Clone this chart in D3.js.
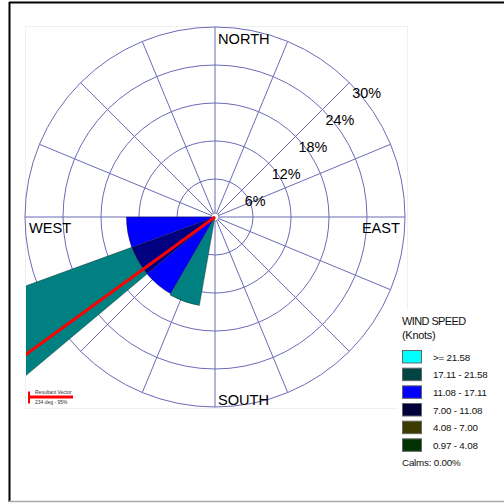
<!DOCTYPE html>
<html>
<head>
<meta charset="utf-8">
<script src="https://cdn.jsdelivr.net/npm/d3@7"></script>
<style>
  body { margin: 0; background: #fff; }
  svg { display: block; font-family: "Liberation Sans", Arial, sans-serif; }
</style>
</head>
<body>
<svg id="rose" width="504" height="503"></svg>
<script>
// wind rose data: 20 degree direction bins, percent of time per speed class
const directions = [200, 220, 240, 260];
const binWidth = 20;
const speedClasses = ["0.97 - 4.08", "4.08 - 7.00", "7.00 - 11.08", "11.08 - 17.11", "17.11 - 21.58", ">= 21.58"];
const freq0 = [0, 0, 0, 0];          // 0.97 - 4.08
const freq1 = [0, 0, 0, 0];          // 4.08 - 7.00
const freq2 = [0, 0, 14.0, 0];       // 7.00 - 11.08
const freq3 = [0, 14.0, 0, 14.0];    // 11.08 - 17.11
const freq4 = [14.2, 0, 43.8, 0];    // 17.11 - 21.58
const freq5 = [0, 0, 0, 0];          // >= 21.58
const petalColors = ["#006600", "#808000", "#000080", "#0000ff", "#008080", "#00ffff"];
const legendColors = ["#003300", "#3c3c00", "#00003c", "#0000ff", "#004444", "#00ffff"];
const ringTicks = [6, 12, 18, 24, 30];
const compassLabels = ["NORTH", "EAST", "SOUTH", "WEST"];
const resultantDir = 234;
const resultantPct = 95;
const calms = 0.00;

const svg = d3.select("#rose");
const cx = 215, cy = 217, R = 190;
const font = "'Liberation Sans', Arial, sans-serif";
const gridColor = "#6b6bb8";

// frame (top + left black, bottom grey)
svg.append("line").attr("x1", 9).attr("y1", 2.5).attr("x2", 504).attr("y2", 2.5)
  .attr("stroke", "#000").attr("stroke-width", 2);
svg.append("line").attr("x1", 9.5).attr("y1", 2).attr("x2", 9.5).attr("y2", 502)
  .attr("stroke", "#000").attr("stroke-width", 2);
svg.append("line").attr("x1", 9).attr("y1", 501.5).attr("x2", 504).attr("y2", 501.5)
  .attr("stroke", "#aaa").attr("stroke-width", 1.5);

// faint plot area
svg.append("rect").attr("x", 25.5).attr("y", 26.5).attr("width", 382).attr("height", 382)
  .attr("fill", "none").attr("stroke", "#f0f0f0");

svg.append("clipPath").attr("id", "plotClip")
  .append("rect").attr("x", 26).attr("y", 26).attr("width", 381).attr("height", 382);

const r = d3.scaleLinear().domain([0, 30]).range([0, R]);
const toRad = d => d * Math.PI / 180;

const plot = svg.append("g").attr("transform", `translate(${cx},${cy})`);

// rings
plot.selectAll("circle.ring").data(ringTicks).join("circle")
  .attr("class", "ring").attr("r", d => r(d))
  .attr("fill", "none").attr("stroke", gridColor).attr("stroke-width", 1);

// 16 spokes
const spokes = d3.range(0, 360, 22.5);
plot.selectAll("line.spoke").data(spokes).join("line")
  .attr("class", "spoke")
  .attr("x1", 0).attr("y1", 0)
  .attr("x2", d => r(30) * Math.sin(toRad(d)))
  .attr("y2", d => -r(30) * Math.cos(toRad(d)))
  .attr("stroke", gridColor).attr("stroke-width", 1);

// petals
const table = directions.map((dir, i) => ({
  dir, c0: freq0[i], c1: freq1[i], c2: freq2[i], c3: freq3[i], c4: freq4[i], c5: freq5[i]
}));
const keys = ["c0", "c1", "c2", "c3", "c4", "c5"];
const stacked = d3.stack().keys(keys)(table);

const arc = d3.arc()
  .innerRadius(d => r(d[0]))
  .outerRadius(d => r(d[1]))
  .startAngle(d => toRad(d.data.dir - binWidth / 2))
  .endAngle(d => toRad(d.data.dir + binWidth / 2));

const petals = svg.append("g").attr("clip-path", "url(#plotClip)")
  .append("g").attr("transform", `translate(${cx},${cy})`);

stacked.forEach((layer, k) => {
  petals.selectAll(null).data(layer.filter(d => d[1] - d[0] > 0)).join("path")
    .attr("d", arc)
    .attr("fill", petalColors[k])
    .attr("stroke", "#1a1a1a").attr("stroke-width", 0.5).attr("stroke-opacity", 0.7);
});

// resultant vector
petals.append("line")
  .attr("x1", 0).attr("y1", 0)
  .attr("x2", r(80) * Math.sin(toRad(resultantDir)))
  .attr("y2", -r(80) * Math.cos(toRad(resultantDir)))
  .attr("stroke", "#ff0000").attr("stroke-width", 3);

// center dot
plot.append("circle").attr("r", 4).attr("fill", "#fff")
  .attr("stroke", "#8a8ab8").attr("stroke-width", 1);

// compass labels
const compassPos = [
  { x: 3, y: -R + 16.5, anchor: "start" },
  { x: R - 5, y: 16, anchor: "end" },
  { x: 3, y: R - 2.5, anchor: "start" },
  { x: -R + 4, y: 16, anchor: "start" }
];
plot.selectAll("text.compass").data(compassLabels).join("text")
  .attr("class", "compass")
  .attr("x", (d, i) => compassPos[i].x)
  .attr("y", (d, i) => compassPos[i].y)
  .attr("text-anchor", (d, i) => compassPos[i].anchor)
  .attr("font-size", 14.6).attr("fill", "#000")
  .text(d => d);

// ring labels along the NE diagonal
plot.selectAll("text.ringLabel").data(ringTicks).join("text")
  .attr("class", "ringLabel")
  .attr("x", d => r(d) * Math.SQRT1_2 + 3)
  .attr("y", d => -r(d) * Math.SQRT1_2 + 15.6)
  .attr("font-size", 14.4).attr("fill", "#000")
  .text(d => d + "%");

// legend
const legend = svg.append("g").attr("transform", "translate(402,0)");
legend.append("rect").attr("x", -4).attr("y", 310).attr("width", 102).attr("height", 165).attr("fill", "#fff");
legend.append("text").attr("x", 0).attr("y", 325).attr("font-size", 11).attr("letter-spacing", -0.6)
  .attr("fill", "#111").text("WIND SPEED");
legend.append("text").attr("x", 0).attr("y", 338.5).attr("font-size", 11).attr("letter-spacing", -0.3)
  .attr("fill", "#111").text("(Knots)");

const legendOrder = d3.range(speedClasses.length).reverse();
const ly = d3.scaleBand().domain(legendOrder).range([350, 456]).paddingInner(0);
legend.selectAll("rect.sw").data(legendOrder).join("rect")
  .attr("class", "sw")
  .attr("x", 0.5).attr("y", d => ly(d) + 0.5)
  .attr("width", 19).attr("height", 12.5)
  .attr("fill", d => legendColors[d])
  .attr("stroke", "#666").attr("stroke-width", 1);
legend.selectAll("text.sl").data(legendOrder).join("text")
  .attr("class", "sl")
  .attr("x", 31).attr("y", d => ly(d) + 10.5)
  .attr("font-size", 9.8).attr("letter-spacing", -0.2).attr("fill", "#111")
  .text(d => speedClasses[d]);
legend.append("text").attr("x", 0).attr("y", 466).attr("font-size", 9.8).attr("letter-spacing", -0.2)
  .attr("fill", "#111").text(`Calms: ${calms.toFixed(2)}%`);

// resultant vector key
const rv = svg.append("g");
rv.append("line").attr("x1", 28).attr("y1", 397).attr("x2", 73).attr("y2", 397)
  .attr("stroke", "#ff0000").attr("stroke-width", 3);
rv.append("line").attr("x1", 29).attr("y1", 391.5).attr("x2", 29).attr("y2", 403.5)
  .attr("stroke", "#ff0000").attr("stroke-width", 2);
rv.append("text").attr("x", 35).attr("y", 393.5).attr("font-size", 5).attr("fill", "#333")
  .text("Resultant Vector");
rv.append("text").attr("x", 35).attr("y", 403.5).attr("font-size", 5).attr("fill", "#333")
  .text(`${resultantDir} deg - ${resultantPct}%`);
</script>
</body>
</html>
